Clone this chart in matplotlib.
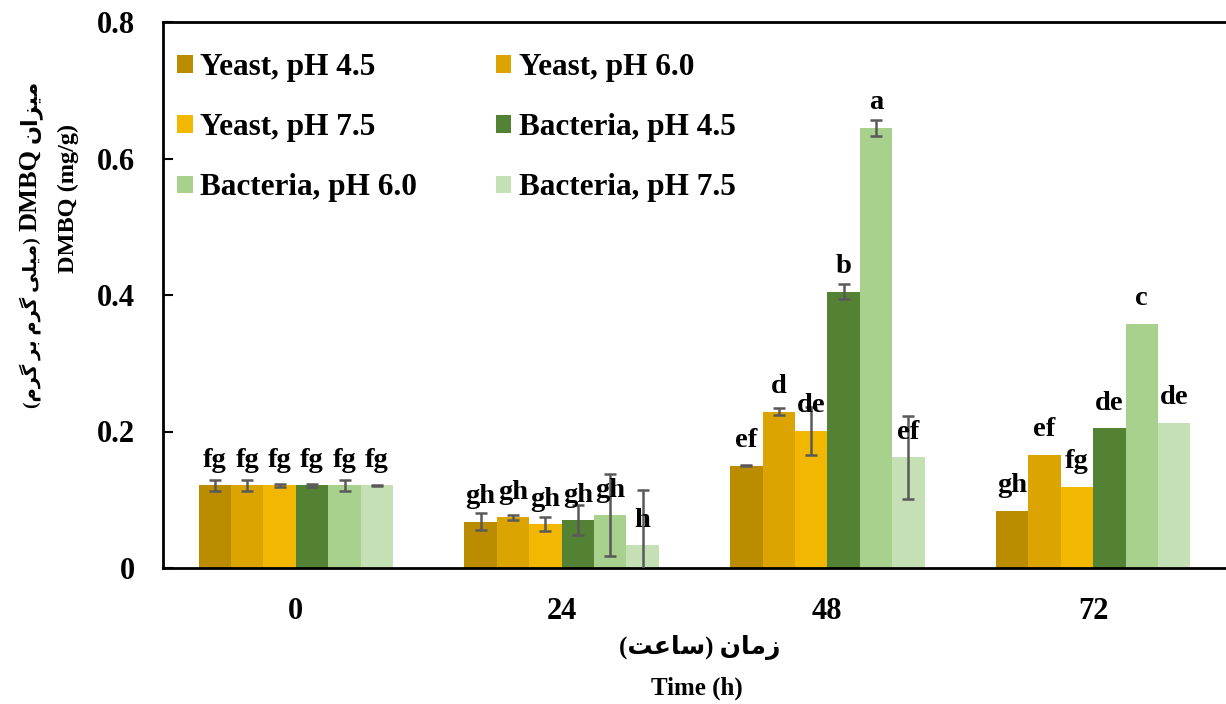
import numpy as np
import matplotlib
matplotlib.use("Agg")
import matplotlib.pyplot as plt
from matplotlib.patches import Patch

# ---------------- data ----------------
times = ["0", "24", "48", "72"]
series = ["Yeast, pH 4.5", "Yeast, pH 6.0", "Yeast, pH 7.5",
          "Bacteria, pH 4.5", "Bacteria, pH 6.0", "Bacteria, pH 7.5"]

yeast_45 = [0.121, 0.068, 0.150, 0.084]
yeast_60 = [0.121, 0.074, 0.229, 0.166]
yeast_75 = [0.121, 0.064, 0.201, 0.119]
bact_45 = [0.121, 0.070, 0.405, 0.205]
bact_60 = [0.121, 0.077, 0.645, 0.358]
bact_75 = [0.121, 0.033, 0.162, 0.213]

err_yeast_45 = [0.008, 0.012, 0.001, None]
err_yeast_60 = [0.008, 0.003, 0.005, None]
err_yeast_75 = [0.002, 0.010, 0.035, None]
err_bact_45 = [0.002, 0.022, 0.011, None]
err_bact_60 = [0.008, 0.060, 0.012, None]
err_bact_75 = [0.001, 0.082, 0.061, None]

let_yeast_45 = ["fg", "gh", "ef", "gh"]
let_yeast_60 = ["fg", "gh", "d", "ef"]
let_yeast_75 = ["fg", "gh", "de", "fg"]
let_bact_45 = ["fg", "gh", "b", "de"]
let_bact_60 = ["fg", "gh", "a", "c"]
let_bact_75 = ["fg", "h", "ef", "de"]

yticks = [0, 0.2, 0.4, 0.6, 0.8]
ytick_labels = ["0", "0.2", "0.4", "0.6", "0.8"]

values = [yeast_45, yeast_60, yeast_75, bact_45, bact_60, bact_75]
errors = [err_yeast_45, err_yeast_60, err_yeast_75, err_bact_45, err_bact_60, err_bact_75]
letters = [let_yeast_45, let_yeast_60, let_yeast_75, let_bact_45, let_bact_60, let_bact_75]
colors = ["#BC8C00", "#DBA400", "#F2B700", "#548235", "#A9D18E", "#C5E0B4"]

# Persian labels (shaped presentation forms, visual order)
gram = "\uFEE1\uFEAE\uFB94"
bar_w = "\uFEAE\uFE91"
mili = "\uFBFD\uFEE0\uFBFF\uFEE3"
mizan = "\uFEE5\uFE8D\uFEB0\uFBFF\uFEE3"
ylabel_fa_parts = [mizan, "DMBQ", "(" + gram + " " + bar_w + " " + gram + " " + mili + ")"]
xlabel_fa = "(" + "\uFE96\uFECB\uFE8E\uFEB3" + ")" + " " + "\uFEE5\uFE8E\uFEE3\uFEAF"
ylabel_en = "DMBQ (mg/g)"
xlabel_en = "Time (h)"

# ---------------- figure ----------------
plt.rcParams['font.family'] = ['Liberation Serif', 'DejaVu Sans']
plt.rcParams['font.weight'] = 'bold'

W, H = 1226, 704
fig = plt.figure(figsize=(W / 100, H / 100), dpi=100)
ax = fig.add_axes([163 / W, 1 - 568 / H, (W - 163) / W, (568 - 22) / H])

x = np.arange(len(times))
n = len(series)
bw = 0.122
for i in range(n):
    pos = x + (i - (n - 1) / 2) * bw
    ax.bar(pos, values[i], width=bw, color=colors[i], edgecolor='none',
           label=series[i], zorder=2)
    e = np.array([np.nan if v is None else v for v in errors[i]], dtype=float)
    ax.errorbar(pos, values[i], yerr=e, fmt='none', ecolor='#595959',
                elinewidth=1.8, capsize=4.5, capthick=1.8, zorder=3)
    for j in range(len(times)):
        ax.annotate(letters[i][j], (pos[j], values[i][j]), xytext=(0, 18),
                    textcoords='offset points', ha='center', va='center',
                    fontsize=20.5, fontweight='bold', family=['Liberation Serif'],
                    zorder=4)

ax.set_xlim(-0.5, 3.5)
ax.set_ylim(0, 0.8)
ax.set_xticks(x)
ax.set_xticklabels(times)
ax.set_yticks(yticks)
ax.set_yticklabels(ytick_labels)
ax.tick_params(axis='y', direction='in', length=7, width=1.5, pad=20, labelsize=22)
ax.tick_params(axis='x', length=0, pad=21, labelsize=22)
for lab in ax.get_xticklabels() + ax.get_yticklabels():
    lab.set_fontweight('bold')

for s in ['left', 'top', 'bottom']:
    ax.spines[s].set_linewidth(2)
    ax.spines[s].set_color('black')
ax.spines['right'].set_visible(False)

# legend (row-wise order)
handles = [Patch(facecolor=colors[i], edgecolor='none') for i in range(n)]
order = [0, 2, 4, 1, 3, 5]
leg = ax.legend([handles[k] for k in order], [series[k] for k in order],
                ncol=2, loc='upper left',
                bbox_to_anchor=(177 / W, 1 - 53 / H), bbox_transform=fig.transFigure,
                frameon=False, borderpad=0, borderaxespad=0,
                handlelength=0.5, handleheight=0.5, handletextpad=0.25,
                columnspacing=2.5, labelspacing=1.0,
                prop={'family': 'Liberation Serif', 'weight': 'bold', 'size': 22.5})

# Persian y label, stacked pieces (top to bottom)
renderer = fig.canvas.get_renderer()
sizes = [16, 19, 14]
fams = [['Liberation Serif', 'DejaVu Sans'], ['Liberation Serif'],
        ['Liberation Serif', 'DejaVu Sans']]
ytop = 80
for txt, sz, fm in zip(ylabel_fa_parts, sizes, fams):
    t = fig.text(30 / W, 1 - ytop / H, txt, rotation=90, ha='center', va='top',
                 fontsize=sz, fontweight='bold', family=fm)
    bb = t.get_window_extent(renderer)
    ytop += bb.height + 6

fig.text(68 / W, 1 - 198 / H, ylabel_en, rotation=90, ha='center', va='center',
         fontsize=17.5, fontweight='bold', family=['Liberation Serif'])
fig.text(700 / W, 1 - 648 / H, xlabel_fa, ha='center', va='center',
         fontsize=18, fontweight='bold', family=['Liberation Serif', 'DejaVu Sans'])
fig.text(697 / W, 1 - 688 / H, xlabel_en, ha='center', va='center',
         fontsize=18, fontweight='bold', family=['Liberation Serif'])

fig.savefig("out.png", dpi=100)
